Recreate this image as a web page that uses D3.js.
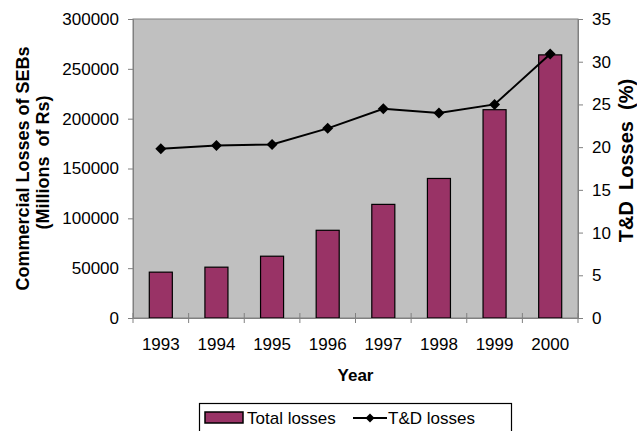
<!DOCTYPE html>
<html>
<head>
<meta charset="utf-8">
<script src="https://cdn.jsdelivr.net/npm/d3@7"></script>
<style>
  html, body { margin: 0; padding: 0; background: #fff; }
  svg { display: block; font-family: Arial, "Liberation Sans", sans-serif; }
</style>
</head>
<body>
<svg id="chart" width="637" height="431"></svg>
<script>
// Commercial losses of SEBs (millions of Rs) and T&D losses (%), 1993–2000
const years = ["1993", "1994", "1995", "1996", "1997", "1998", "1999", "2000"];
const totalLosses = [46000, 51000, 62000, 88000, 114000, 140000, 209000, 264000];
const tdLosses = [19.8, 20.2, 20.3, 22.2, 24.5, 24.0, 25.0, 30.9];
const leftTicks = [0, 50000, 100000, 150000, 200000, 250000, 300000];
const rightTicks = [0, 5, 10, 15, 20, 25, 30, 35];

const svg = d3.select("#chart");
const plot = { left: 133, right: 578, top: 19, bottom: 318 };
const barColor = "#993366";
const axisColor = "#808080";

const x = d3.scaleBand().domain(years).range([plot.left, plot.right])
  .paddingInner(0.586).paddingOuter(0.293);
const yL = d3.scaleLinear().domain([0, 300000]).range([plot.bottom, plot.top]);
const yR = d3.scaleLinear().domain([0, 35]).range([plot.bottom, plot.top]);

// square diamond marker (a square turned 45 degrees)
const diamondPath = r => `M0,${-r}L${r},0L0,${r}L${-r},0Z`;

// plot area background
svg.append("rect")
  .attr("x", plot.left).attr("y", plot.top)
  .attr("width", plot.right - plot.left).attr("height", plot.bottom - plot.top)
  .attr("fill", "#c0c0c0").attr("stroke", axisColor).attr("stroke-width", 1);

// bars
svg.append("g").selectAll("rect").data(totalLosses).join("rect")
  .attr("x", (d, i) => x(years[i]))
  .attr("y", d => yL(d))
  .attr("width", x.bandwidth())
  .attr("height", d => yL(0) - yL(d))
  .attr("fill", barColor).attr("stroke", "#000").attr("stroke-width", 1.2);

// left axis
const axL = svg.append("g").attr("transform", `translate(${plot.left},0)`)
  .call(d3.axisLeft(yL).tickValues(leftTicks).tickSize(5).tickPadding(9).tickFormat(d3.format("d")));
// right axis
const axR = svg.append("g").attr("transform", `translate(${plot.right},0)`)
  .call(d3.axisRight(yR).tickValues(rightTicks).tickSize(5).tickPadding(9).tickFormat(d3.format("d")));
// bottom axis: labels at category centres, ticks at category boundaries
const axB = svg.append("g").attr("transform", `translate(0,${plot.bottom})`)
  .call(d3.axisBottom(x).tickSize(0).tickPadding(20));
const step = x.step();
axB.selectAll("line.cat").data(d3.range(years.length + 1)).join("line")
  .attr("class", "cat")
  .attr("x1", i => plot.left + i * step).attr("x2", i => plot.left + i * step)
  .attr("y1", -5).attr("y2", 5)
  .attr("stroke", axisColor);

[axL, axR, axB].forEach(g => {
  g.select(".domain").attr("stroke", axisColor);
  g.selectAll(".tick line").attr("stroke", axisColor);
  g.selectAll("text").attr("font-size", 17).attr("fill", "#000")
    .attr("font-family", "Arial, 'Liberation Sans', sans-serif");
});

// T&D loss line with diamond markers
const cx = i => x(years[i]) + x.bandwidth() / 2;
const line = d3.line().x((d, i) => cx(i)).y(d => yR(d));
svg.append("path").datum(tdLosses)
  .attr("d", line).attr("fill", "none").attr("stroke", "#000").attr("stroke-width", 2);
svg.append("g").selectAll("path").data(tdLosses).join("path")
  .attr("transform", (d, i) => `translate(${cx(i)},${yR(d)})`)
  .attr("d", diamondPath(5.5)).attr("fill", "#000");

// axis titles
const midY = (plot.top + plot.bottom) / 2;
svg.append("text")
  .attr("transform", `translate(29,${midY}) rotate(-90)`)
  .attr("text-anchor", "middle").attr("font-size", 18).attr("font-weight", "bold")
  .text("Commercial Losses of SEBs");
svg.append("text")
  .attr("transform", `translate(49,${midY - 6}) rotate(-90)`)
  .attr("text-anchor", "middle").attr("font-size", 18).attr("font-weight", "bold")
  .style("white-space", "pre")
  .text("(Millions  of Rs)");
svg.append("text")
  .attr("transform", `translate(633,${midY - 8}) rotate(-90)`)
  .attr("text-anchor", "middle").attr("font-size", 20).attr("font-weight", "bold")
  .style("white-space", "pre")
  .text("T&D  Losses  (%)");
svg.append("text")
  .attr("x", (plot.left + plot.right) / 2).attr("y", 381)
  .attr("text-anchor", "middle").attr("font-size", 17).attr("font-weight", "bold")
  .text("Year");

// legend
const lg = svg.append("g");
lg.append("rect").attr("x", 199.5).attr("y", 403.5).attr("width", 312).attr("height", 40)
  .attr("fill", "#fff").attr("stroke", "#000").attr("stroke-width", 1.2);
lg.append("rect").attr("x", 205).attr("y", 412).attr("width", 38).attr("height", 11)
  .attr("fill", barColor).attr("stroke", "#000").attr("stroke-width", 1.5);
lg.append("text").attr("x", 247).attr("y", 423.5).attr("font-size", 17).text("Total losses");
lg.append("line").attr("x1", 353).attr("x2", 387).attr("y1", 418).attr("y2", 418)
  .attr("stroke", "#000").attr("stroke-width", 2);
lg.append("path").attr("transform", "translate(370,418)").attr("d", diamondPath(4.5)).attr("fill", "#000");
lg.append("text").attr("x", 388).attr("y", 423.5).attr("font-size", 17).text("T&D losses");
</script>
</body>
</html>
